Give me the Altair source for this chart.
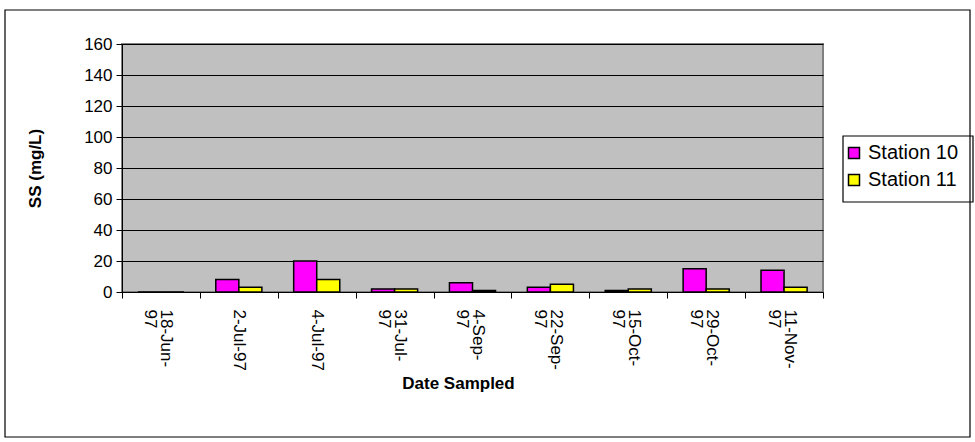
import altair as alt
import pandas as pd

dates = ["18-Jun-|97", "2-Jul-97", "4-Jul-97", "31-Jul-|97", "4-Sep-|97",
         "22-Sep-|97", "15-Oct-|97", "29-Oct-|97", "11-Nov-|97"]
station10 = [0, 8, 20, 2, 6, 3, 1, 15, 14]
station11 = [0, 3, 8, 2, 1, 5, 2, 2, 3]
series = ["Station 10", "Station 11"]
colors = ["#FF00FF", "#FFFF00"]

rows = []
for d, a, b in zip(dates, station10, station11):
    rows.append({"date": d, "station": series[0], "ss": a})
    rows.append({"date": d, "station": series[1], "ss": b})
df = pd.DataFrame(rows)

FONT = "Liberation Sans"

bars = alt.Chart(df).mark_bar(stroke="black", strokeWidth=1.5).encode(
    x=alt.X("date:N", sort=dates, title="Date Sampled",
            scale=alt.Scale(paddingInner=0, paddingOuter=0),
            axis=alt.Axis(labelAngle=90,
                          labelExpr="isValid(datum.value) ? split(datum.value, '|') : ''",
                          labelOffset=alt.ExprRef(expr="isValid(datum.value) && indexof(datum.value, '|') >= 0 ? 5 : 0"),
                          tickBand="extent", tickSize=6, tickColor="black",
                          domainColor="black", labelFont=FONT, labelFontSize=17,
                          labelColor="black", labelPadding=11, labelLineHeight=16,
                          titleFont=FONT, titleFontSize=17, titleFontWeight="bold",
                          titleColor="black", titleX=336, titleY=91,
                          titleBaseline="middle", grid=False)),
    xOffset=alt.XOffset("station:N", sort=series,
                        scale=alt.Scale(paddingInner=0, paddingOuter=0.69)),
    y=alt.Y("ss:Q", title="SS (mg/L)",
            scale=alt.Scale(domain=[0, 160], nice=False),
            axis=alt.Axis(values=[0, 20, 40, 60, 80, 100, 120, 140, 160],
                          tickSize=6, tickColor="black", domainColor="black",
                          gridColor="black", gridWidth=1, gridOpacity=1,
                          labelFont=FONT, labelFontSize=17, labelColor="black",
                          labelPadding=4, titleFont=FONT, titleFontSize=17,
                          titleFontWeight="bold", titleColor="black",
                          titlePadding=39)),
    color=alt.Color("station:N", sort=series,
                    scale=alt.Scale(domain=series, range=colors),
                    legend=alt.Legend(title=None, orient="none", legendX=716,
                                      legendY=93, symbolType="square",
                                      symbolSize=121, symbolStrokeColor="black",
                                      symbolStrokeWidth=1.5, symbolOpacity=1,
                                      labelFont=FONT, labelFontSize=20,
                                      labelColor="black", padding=6,
                                      rowPadding=7, labelOffset=4)),
)

legend_box = alt.Chart(pd.DataFrame({"k": [0]})).mark_rect(
    fill="white", stroke="black", strokeWidth=1.2, clip=False
).encode(x=alt.value(721), x2=alt.value(851), y=alt.value(92), y2=alt.value(158))

frame = alt.Chart(pd.DataFrame({"k": [0]})).mark_rect(
    fill=None, stroke="black", strokeWidth=1.2, clip=False
).encode(x=alt.value(-117), x2=alt.value(848), y=alt.value(-34), y2=alt.value(393))

chart = alt.layer(legend_box, bars, frame).properties(
    width=701, height=248,
    autosize=alt.AutoSizeParams(type="none"),
    padding={"left": 122, "top": 44, "right": 152, "bottom": 150},
    background="white",
).configure_view(fill="#C0C0C0", stroke="#808080", strokeWidth=2)

chart.save("out.html", embed_options={"renderer": "svg", "actions": False})
